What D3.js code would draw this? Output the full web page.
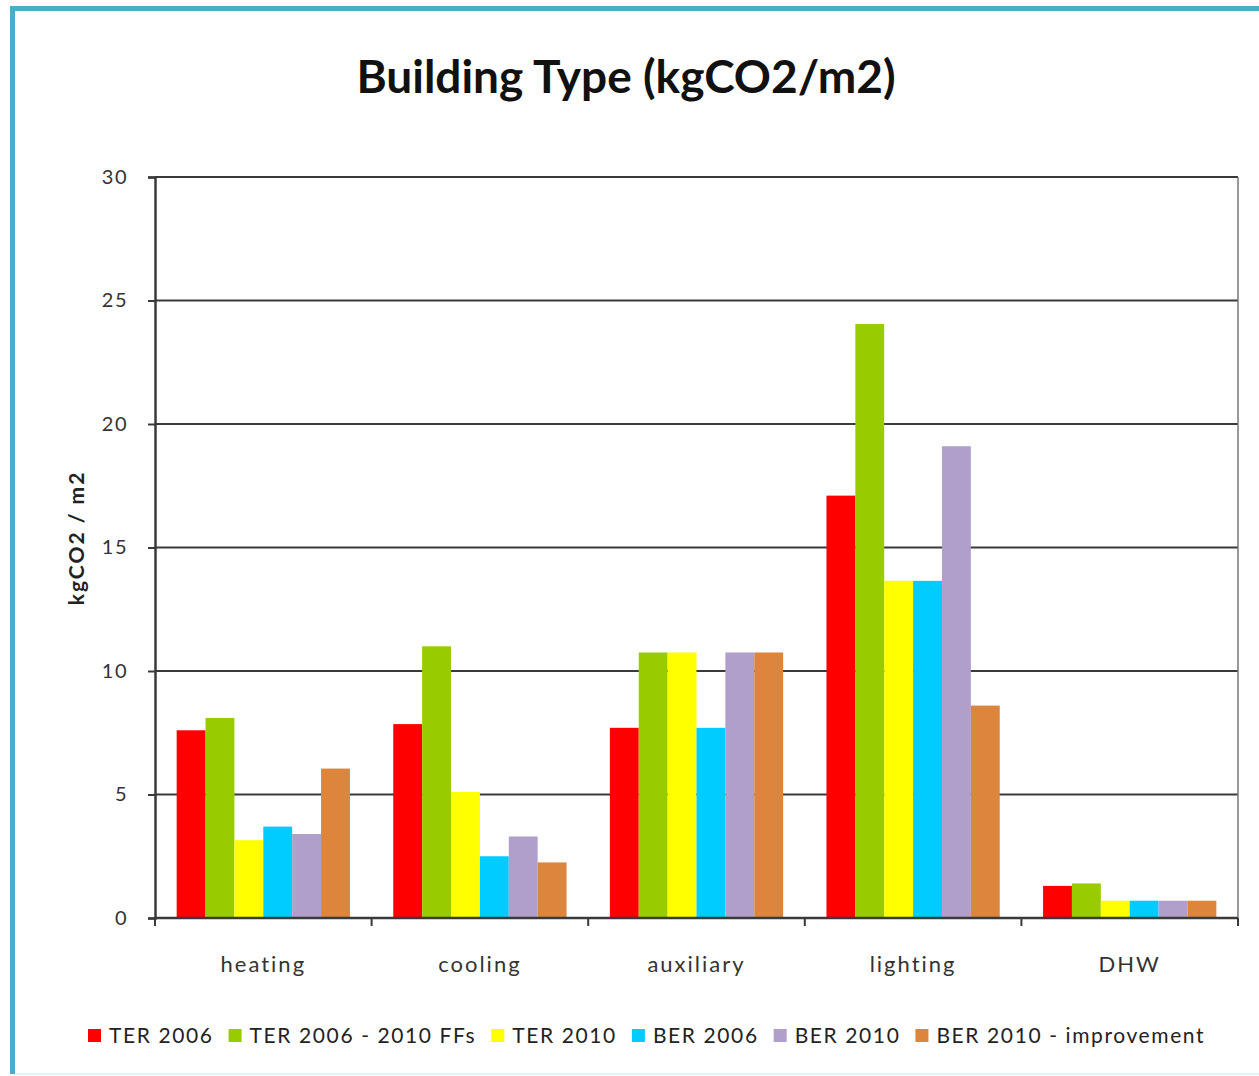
<!DOCTYPE html>
<html>
<head>
<meta charset="utf-8">
<script src="https://cdn.jsdelivr.net/npm/d3@7"></script>
<style>
  html, body { margin: 0; padding: 0; background: #fff; }
  svg { display: block; }
  text { font-family: Lato, "Open Sans", sans-serif; }
</style>
</head>
<body>
<svg id="chart" width="1259" height="1076"></svg>
<script>
const categories = ["heating", "cooling", "auxiliary", "lighting", "DHW"];
const seriesNames = ["TER 2006", "TER 2006 - 2010 FFs", "TER 2010", "BER 2006", "BER 2010", "BER 2010 - improvement"];
const seriesColors = ["#FF0000", "#99CC00", "#FFFF00", "#00CCFF", "#AF9FCA", "#DC853C"];
const ter2006      = [7.6, 7.85, 7.7, 17.1, 1.3];
const ter2006FFs   = [8.1, 11.0, 10.75, 24.05, 1.4];
const ter2010      = [3.15, 5.1, 10.75, 13.65, 0.7];
const ber2006      = [3.7, 2.5, 7.7, 13.65, 0.7];
const ber2010      = [3.4, 3.3, 10.75, 19.1, 0.7];
const ber2010Impr  = [6.05, 2.25, 10.75, 8.6, 0.7];
const seriesValues = [ter2006, ter2006FFs, ter2010, ber2006, ber2010, ber2010Impr];
const yTicks = [0, 5, 10, 15, 20, 25, 30];
const titleText = "Building Type (kgCO2/m2)";
const yAxisTitle = "kgCO2 / m2";

const svg = d3.select("#chart");
const W = 1259, H = 1076;

// frame
svg.append("rect").attr("x", 0).attr("y", 0).attr("width", W).attr("height", H).attr("fill", "#fff");
svg.append("line").attr("x1", 12.5).attr("x2", 12.5).attr("y1", 6).attr("y2", 1074)
  .attr("stroke", "#4FACC8").attr("stroke-width", 5);
svg.append("line").attr("x1", 10).attr("x2", W).attr("y1", 8.5).attr("y2", 8.5)
  .attr("stroke", "#4FACC8").attr("stroke-width", 5);
svg.append("line").attr("x1", 15).attr("x2", W).attr("y1", 1074).attr("y2", 1074)
  .attr("stroke", "#E3F2F7").attr("stroke-width", 2);

// title
svg.append("text").attr("x", 626).attr("y", 93).attr("text-anchor", "middle")
  .attr("font-size", 46).attr("font-weight", "bold").attr("fill", "#111")
  .text(titleText);

const plot = { left: 155, right: 1238, top: 177, bottom: 918 };

const y = d3.scaleLinear().domain([0, 30]).range([plot.bottom, plot.top]);
const x0 = d3.scaleBand().domain(categories).range([plot.left, plot.right])
  .paddingInner(0.2).paddingOuter(0.1);
const x1 = d3.scaleBand().domain(d3.range(seriesNames.length)).range([0, x0.bandwidth()]);

// gridlines
const grid = svg.append("g");
grid.selectAll("line").data(yTicks.filter(d => d > 0)).join("line")
  .attr("x1", plot.left).attr("x2", plot.right)
  .attr("y1", d => y(d)).attr("y2", d => y(d))
  .attr("stroke", "#3a3a3a").attr("stroke-width", 2);
// right plot border
svg.append("line").attr("x1", plot.right).attr("x2", plot.right)
  .attr("y1", plot.top).attr("y2", plot.bottom)
  .attr("stroke", "#777").attr("stroke-width", 1.5);

// bars
const groups = svg.append("g").selectAll("g").data(categories).join("g")
  .attr("transform", d => `translate(${x0(d)},0)`);
groups.selectAll("rect").data((c, ci) => seriesValues.map((vals, si) => ({ si, v: vals[ci] })))
  .join("rect")
  .attr("x", d => x1(d.si))
  .attr("width", x1.bandwidth())
  .attr("y", d => y(d.v))
  .attr("height", d => y(0) - y(d.v))
  .attr("fill", d => seriesColors[d.si]);

// y axis
const yAxis = d3.axisLeft(y).tickValues(yTicks).tickSize(7).tickPadding(20);
const gy = svg.append("g").attr("transform", `translate(${plot.left},0)`).call(yAxis);
gy.select(".domain").attr("stroke", "#3a3a3a").attr("stroke-width", 2.5);
gy.selectAll(".tick line").attr("stroke", "#3a3a3a").attr("stroke-width", 2);
gy.selectAll(".tick text").attr("font-size", 20).attr("fill", "#333")
  .attr("font-family", "Lato, sans-serif").attr("letter-spacing", 1.5);

// x axis
const xEdges = d3.scaleLinear().domain([0, categories.length]).range([plot.left, plot.right]);
const gx = svg.append("g").attr("transform", `translate(0,${plot.bottom})`);
gx.append("line").attr("x1", plot.left).attr("x2", plot.right).attr("y1", 0).attr("y2", 0)
  .attr("stroke", "#3a3a3a").attr("stroke-width", 2.5);
gx.selectAll("line.tk").data(d3.range(categories.length + 1)).join("line").attr("class", "tk")
  .attr("x1", d => xEdges(d)).attr("x2", d => xEdges(d)).attr("y1", 0).attr("y2", 8)
  .attr("stroke", "#3a3a3a").attr("stroke-width", 2);
gx.selectAll("text").data(categories).join("text")
  .attr("x", d => x0(d) + x0.bandwidth() / 2).attr("y", 54)
  .attr("text-anchor", "middle").attr("font-size", 22).attr("fill", "#333")
  .attr("letter-spacing", 2)
  .text(d => d);

// y axis title
svg.append("text").attr("transform", "translate(84,538) rotate(-90)")
  .attr("text-anchor", "middle").attr("font-size", 21).attr("font-weight", "bold")
  .attr("fill", "#222").attr("letter-spacing", 2)
  .text(yAxisTitle);

// legend
const legend = svg.append("g");
let lx = 88;
seriesNames.forEach((name, i) => {
  legend.append("rect").attr("x", lx).attr("y", 1029).attr("width", 13).attr("height", 13)
    .attr("fill", seriesColors[i]);
  const t = legend.append("text").attr("x", lx + 21).attr("y", 1043)
    .attr("font-size", 21).attr("fill", "#222").attr("letter-spacing", 1.6).text(name);
  lx = lx + 21 + t.node().getComputedTextLength() + 15;
});
</script>
</body>
</html>
